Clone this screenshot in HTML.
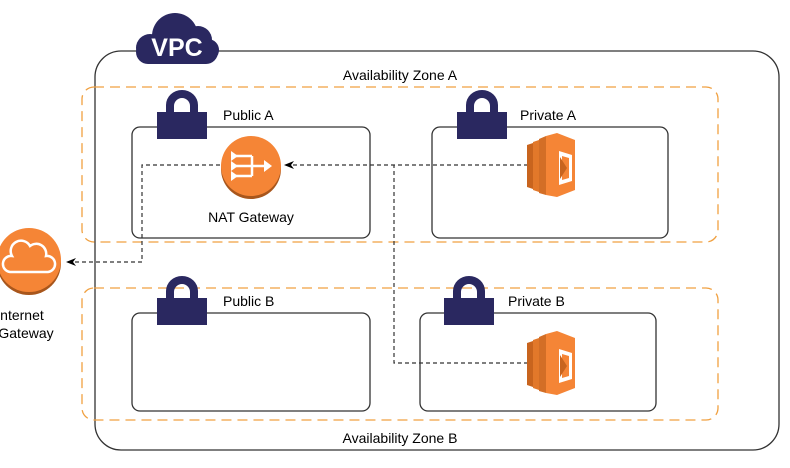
<!DOCTYPE html>
<html><head><style>body{margin:0;background:#fff}svg{display:block}text{font-family:"Liberation Sans",sans-serif}</style></head><body>
<svg width="790" height="468" viewBox="0 0 790 468" xmlns="http://www.w3.org/2000/svg">
<defs>
<g id="lock"><path d="M9 24 V15 A16 15 0 0 1 41 15 V24 H33 V16 A8 8 0 0 0 17 16 V24 Z" fill="#2a2860"/><rect x="0" y="22" width="50" height="27" fill="#2a2860"/></g>
<g id="lam"><polygon points="0,12 6,10 6,56 0,54" fill="#c8641e"/><polygon points="6,9 12,7 12,59 6,57" fill="#e2782a"/><polygon points="12,6 19,3 19,62 12,60" fill="#d36e26"/><polygon points="19,3 30,0 48,7 48,57 30,64 19,62" fill="#f58536"/><polygon points="32,18 45,22 45,48 32,52" fill="#fff"/><polygon points="35,23 42,25 42,45 35,47" fill="#f58536"/><polygon points="33,24 40,35 33,46" fill="#c8641e"/></g>
<marker id="ar" markerWidth="10" markerHeight="8" refX="9" refY="4" orient="auto" markerUnits="userSpaceOnUse"><path d="M0,0 L10,4 L0,8 L3,4Z" fill="#000"/></marker>
</defs>
<rect x="95" y="51" width="684" height="399" rx="26" fill="none" stroke="#333" stroke-width="1.3"/>
<g fill="#2a2860"><circle cx="150" cy="48" r="14"/><circle cx="175" cy="36" r="23"/><circle cx="198" cy="40" r="14"/><circle cx="208" cy="50" r="11"/><rect x="136" y="40" width="82" height="24" rx="12"/></g>
<text x="177" y="56" font-size="25" font-weight="bold" fill="#fff" text-anchor="middle">VPC</text>
<rect x="82" y="87" width="636" height="155" rx="12" fill="none" stroke="#f0a040" stroke-width="1.3" stroke-dasharray="10,6"/>
<rect x="82" y="288" width="636" height="132" rx="12" fill="none" stroke="#f0a040" stroke-width="1.3" stroke-dasharray="10,6"/>
<text x="400" y="80" font-size="14" text-anchor="middle">Availability Zone A</text>
<text x="400" y="443" font-size="14" text-anchor="middle">Availability Zone B</text>
<g fill="#fff" stroke="#333" stroke-width="1.3">
<rect x="132" y="127" width="238" height="111" rx="8"/><rect x="432" y="127" width="236" height="111" rx="8"/>
<rect x="132" y="313" width="238" height="98" rx="8"/><rect x="420" y="313" width="236" height="98" rx="8"/></g>
<use href="#lock" x="157" y="90"/><use href="#lock" x="457" y="90"/><use href="#lock" x="157" y="276"/><use href="#lock" x="444" y="276"/>
<g font-size="14"><text x="223" y="120">Public A</text><text x="520" y="120">Private A</text><text x="223" y="306">Public B</text><text x="508" y="306">Private B</text></g>
<g fill="none" stroke="#333" stroke-width="1.2" stroke-dasharray="4,3">
<path d="M528 165 H285" marker-end="url(#ar)"/>
<path d="M528 363 H394 V165"/>
<path d="M220 165 H142 V262 H67" marker-end="url(#ar)"/></g>
<circle cx="251" cy="169" r="30" fill="#a8561c"/><circle cx="251" cy="166" r="30" fill="#f58536"/>
<g stroke="#fff" stroke-width="2.5" fill="none"><path d="M236 156 H252 M236 166 H266 M236 176 H252 M252 156 V176"/></g>
<g fill="#fff"><polygon points="231,151 238,156 231,161"/><polygon points="231,161 238,166 231,171"/><polygon points="231,171 238,176 231,181"/><polygon points="264,160 272,166 264,172"/></g>
<text x="251" y="222" font-size="14" text-anchor="middle">NAT Gateway</text>
<use href="#lam" x="527" y="133"/><use href="#lam" x="527" y="331"/>
<circle cx="29" cy="263" r="32" fill="#a8561c"/><circle cx="29" cy="260" r="32" fill="#f58536"/>
<path d="M10 272 A8 8 0 0 1 12 256 A10 10 0 0 1 30 246 A10 10 0 0 1 46 256 A8 8 0 0 1 48 272 Z" fill="none" stroke="#fff" stroke-width="2.5"/>
<text x="20" y="320" font-size="14" text-anchor="middle">Internet</text>
<text x="26" y="338" font-size="14" text-anchor="middle">Gateway</text>
</svg>
</body></html>
